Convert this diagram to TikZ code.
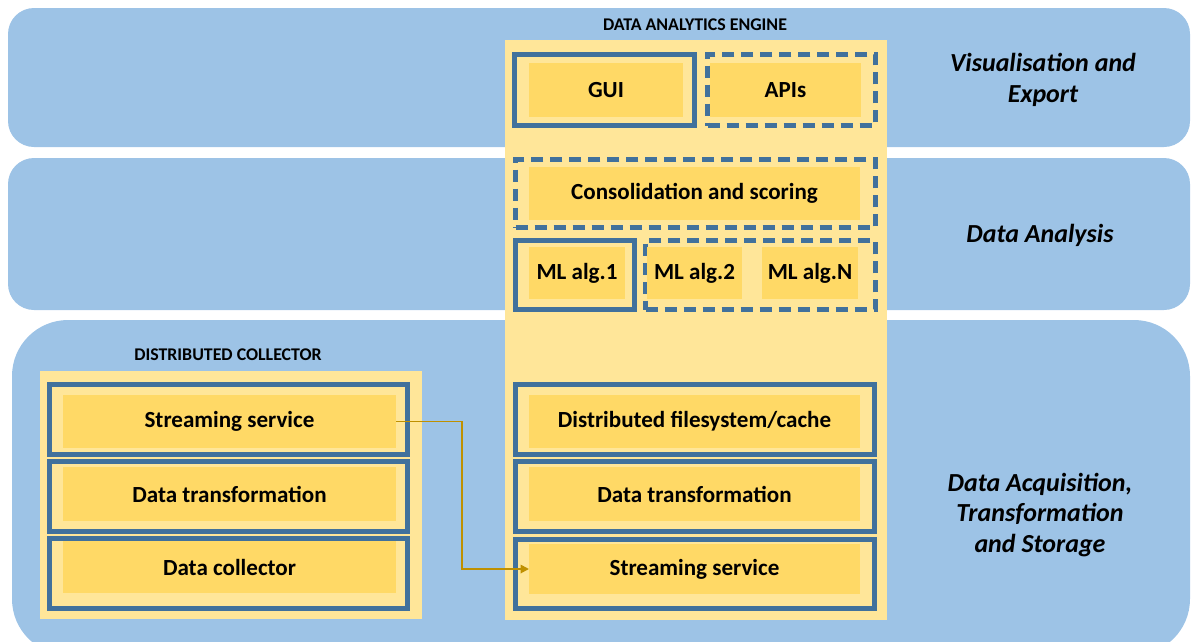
\documentclass[tikz,border=0pt]{standalone}
\usepackage{fontspec}
\setmainfont{Carlito}
\usepackage{tikz}
\usetikzlibrary{arrows.meta, positioning}

\definecolor{bandblue}{HTML}{9DC3E6}
\definecolor{paleyellow}{HTML}{FFE699}
\definecolor{deepyellow}{HTML}{FFD966}
\definecolor{frameblue}{HTML}{41719C}
\definecolor{flowgold}{HTML}{BF9000}

\tikzset{
  sz/.style 2 args={minimum width=#1*0.025cm, minimum height=#2*0.025cm},
  band/.style={fill=bandblue, rounded corners=0.65cm, inner sep=0pt, outer sep=0pt},
  panel/.style={fill=paleyellow, inner sep=0pt, outer sep=0pt},
  solidbox/.style={draw=frameblue, line width=0.125cm, fill=paleyellow, inner sep=0pt, outer sep=0pt},
  dashbox/.style={solidbox, dash pattern=on 0.3cm off 0.175cm},
  unit/.style={fill=deepyellow, inner sep=0pt, outer sep=0pt, font=\fontsize{16.4}{19}\selectfont\bfseries},
  layer/.style={align=center, font=\fontsize{18.5}{22}\selectfont\bfseries\itshape},
  heading/.style={font=\fontsize{12.7}{14}\selectfont\bfseries},
  flow/.style={draw=flowgold, line width=1.3pt, -{Triangle[length=6pt, width=6pt]}}
}

\begin{document}
\begin{tikzpicture}[x=0.025cm, y=-0.025cm]
    \useasboundingbox (0,0) rectangle (1192,641);
    % Layers
    \node[band, sz={1182}{139}] (vis) at (599,77.5) {};
    \node[band, sz={1182}{152}] (ana) at (599,234) {};
    \node[band, sz={1178}{335}, rounded corners=1.4cm] (acq) at (601,487.5) {};
    % Panels
    \node[panel, sz={382}{580}] (engine) at (696,330) {};
    \node[panel, sz={382}{248}] (collector) at (231,495) {};
    \node[heading] (enginetitle) at (695,25) {DATA ANALYTICS ENGINE};
    \node[heading] (collectortitle) at (228,355) {DISTRIBUTED COLLECTOR};
    % Engine frames
    \node[solidbox, sz={180}{71}] (guibox) at (604.5,90) {};
    \node[dashbox, sz={168}{71}] (apibox) at (791.5,90) {};
    \node[dashbox, sz={360}{68}] (conbox) at (695.5,193.5) {};
    \node[solidbox, sz={119}{69}] (mlonebox) at (575,275) {};
    \node[dashbox, sz={230}{69}] (mlrestbox) at (760.5,275) {};
    \node[solidbox, sz={359}{70}] (dfsbox) at (695,419.5) {};
    \node[solidbox, sz={359}{70}] (rdtbox) at (695,496.5) {};
    \node[solidbox, sz={359}{69}] (rssbox) at (695,574) {};
    % Collector frames
    \node[solidbox, sz={358}{70}] (lssbox) at (228.5,419.5) {};
    \node[solidbox, sz={358}{70}] (ldtbox) at (228.5,496.5) {};
    \node[solidbox, sz={358}{70}] (ldcbox) at (228.5,573.5) {};
    % Units
    \node[unit, sz={154}{54}] (gui) at (606,90) {GUI};
    \node[unit, sz={151}{54}] (api) at (785.5,90) {APIs};
    \node[unit, sz={331}{53}] (con) at (694.5,193.5) {Consolidation and scoring};
    \node[unit, sz={96}{52}] (mlone) at (577,273) {ML alg.1};
    \node[unit, sz={95}{52}] (mltwo) at (694.5,273) {ML alg.2};
    \node[unit, sz={96}{52}] (mln) at (810,273) {ML alg.N};
    \node[unit, sz={331}{53}] (dfs) at (694.5,421.5) {Distributed filesystem/cache};
    \node[unit, sz={331}{54}] (rdt) at (694.5,494) {Data transformation};
    \node[unit, sz={331}{50}] (rss) at (694.5,569) {Streaming service};
    \node[unit, sz={333}{53}] (lss) at (229.5,421.5) {Streaming service};
    \node[unit, sz={333}{54}] (ldt) at (229.5,494) {Data transformation};
    \node[unit, sz={333}{52}] (ldc) at (229.5,567) {Data collector};
    % Layer labels
    \node[layer] (visname) at (1043,80) {Visualisation and\\Export};
    \node[layer] (ananame) at (1040,235) {Data Analysis};
    \node[layer] (acqname) at (1040,515) {Data Acquisition,\\Transformation\\and Storage};
    % Stream link
    \coordinate (bend) at (462,421.5);
    \draw[flow] (lss.east) -- (bend) |- (rss.west);
\end{tikzpicture}
\end{document}
